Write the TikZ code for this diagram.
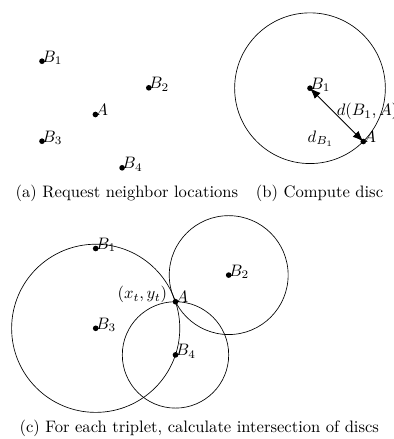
\documentclass[tikz,border=0pt]{standalone}
\usetikzlibrary{calc,arrows.meta}
\begin{document}
\begin{tikzpicture}[x=0.603pt,y=-0.603pt,
  dot/.style={circle,fill=black,inner sep=0pt,minimum size=3.4pt},
  lbl/.style={anchor=base west,inner sep=0pt},
  disc/.style={draw=black,line width=0.4pt},
  captext/.style={anchor=base,inner sep=0pt},
  distarrow/.style={{Latex[length=6.5pt,width=5pt]}-{Latex[length=6.5pt,width=5pt]},line width=0.55pt}]
\useasboundingbox (0,0) rectangle (394,439);
% ---------- (a)
\node[dot] (aB1) at (42,61.2) {};
\node[dot] (aB2) at (148.8,87.8) {};
\node[dot] (aA)  at (95.4,114.5) {};
\node[dot] (aB3) at (42,141.2) {};
\node[dot] (aB4) at (122.1,167.8) {};
\node[lbl] (aB1l) at ($(aB1.center)+(0,1)$) {$B_1$};
\node[lbl] (aB2l) at ($(aB2.center)+(0,1)$) {$B_2$};
\node[lbl] (aAl)  at ($(aA.center)+(0,1)$) {$A$};
\node[lbl] (aB3l) at ($(aB3.center)+(0,1)$) {$B_3$};
\node[lbl] (aB4l) at ($(aB4.center)+(0,1)$) {$B_4$};
\node[captext] (capa) at (127,197.5) {(a) Request neighbor locations};
% ---------- (b)
\node[dot] (bB1) at (310,88.2) {};
\node[dot] (bA)  at (363.3,141.5) {};
\draw[disc] let \p1=($(bA)-(bB1)$), \n1={veclen(\x1,\y1)} in (bB1) circle (\n1);
\draw[distarrow] (bB1.center) -- (bA.center);
\node[lbl] (bB1l) at ($(bB1.center)+(0,1)$) {$B_1$};
\node[lbl] (bAl)  at ($(bA.center)+(0,1)$) {$A$};
\node[lbl] (bd)   at (336.5,115.7) {$d(B_1,A)$};
\node[anchor=base east,inner sep=0pt] (bdb) at (334,142.2) {$d_{B_1}$};
\node[captext] (capb) at (319.5,197.5) {(b) Compute disc};
% ---------- (c)
\node[dot] (cB1) at (95.7,248.5) {};
\node[dot] (cB2) at (228.7,275.1) {};
\node[dot] (cA)  at (175.5,301.7) {};
\node[dot] (cB3) at (95.7,328.3) {};
\node[dot] (cB4) at (175.5,354.9) {};
\draw[disc] let \p1=($(cA)-(cB3)$), \n1={veclen(\x1,\y1)} in (cB3) circle (\n1);
\draw[disc] let \p1=($(cA)-(cB2)$), \n1={veclen(\x1,\y1)} in (cB2) circle (\n1);
\draw[disc] let \p1=($(cA)-(cB4)$), \n1={veclen(\x1,\y1)} in (cB4) circle (\n1);
\node[lbl] (cB1l) at ($(cB1.center)+(0,1)$) {$B_1$};
\node[lbl] (cB2l) at ($(cB2.center)+(0,1)$) {$B_2$};
\node[lbl] (cAl)  at ($(cA.center)+(0,1)$) {$A$};
\node[lbl] (cB3l) at ($(cB3.center)+(0,1)$) {$B_3$};
\node[lbl] (cB4l) at ($(cB4.center)+(0,1)$) {$B_4$};
\node[anchor=base east,inner sep=0pt] (cxy) at ($(cA.center)+(-8,-3)$) {$(x_t,y_t)$};
\node[captext] (capc) at (199.3,432.5) {(c) For each triplet, calculate intersection of discs};
\end{tikzpicture}
\end{document}
